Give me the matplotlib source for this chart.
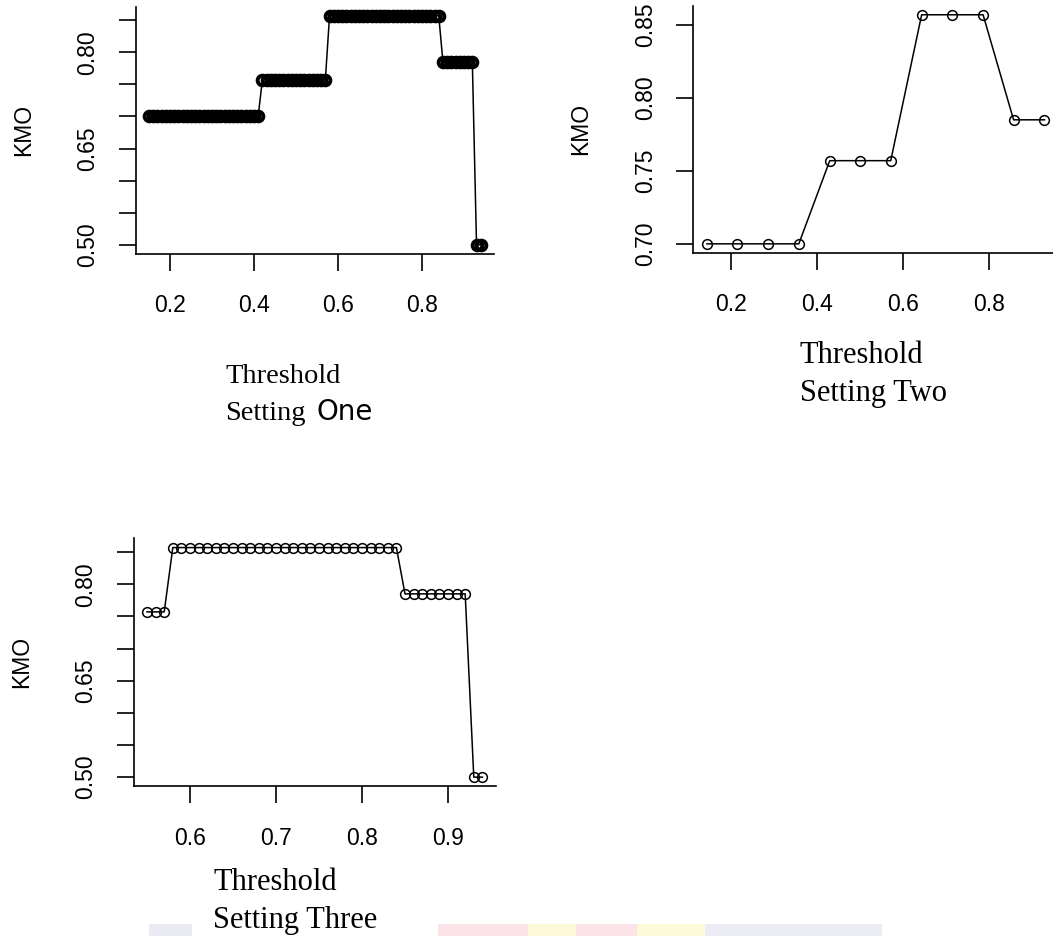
import matplotlib
matplotlib.use("Agg")
import matplotlib.pyplot as plt
from matplotlib.patches import Rectangle

# ---------------- data ----------------
# Setting One: thresholds 0.15 .. 0.94 (step 0.01)
one_thresholds = [0.15, 0.16, 0.17, 0.18, 0.19, 0.20, 0.21, 0.22, 0.23, 0.24,
                  0.25, 0.26, 0.27, 0.28, 0.29, 0.30, 0.31, 0.32, 0.33, 0.34,
                  0.35, 0.36, 0.37, 0.38, 0.39, 0.40, 0.41, 0.42, 0.43, 0.44,
                  0.45, 0.46, 0.47, 0.48, 0.49, 0.50, 0.51, 0.52, 0.53, 0.54,
                  0.55, 0.56, 0.57, 0.58, 0.59, 0.60, 0.61, 0.62, 0.63, 0.64,
                  0.65, 0.66, 0.67, 0.68, 0.69, 0.70, 0.71, 0.72, 0.73, 0.74,
                  0.75, 0.76, 0.77, 0.78, 0.79, 0.80, 0.81, 0.82, 0.83, 0.84,
                  0.85, 0.86, 0.87, 0.88, 0.89, 0.90, 0.91, 0.92, 0.93, 0.94]
one_kmo = [0.700] * 27 + [0.757] * 16 + [0.857] * 27 + [0.785] * 8 + [0.500] * 2

# Setting Two
two_thresholds = [0.143, 0.214, 0.286, 0.357, 0.429, 0.500,
                  0.571, 0.643, 0.714, 0.786, 0.857, 0.929]
two_kmo = [0.700, 0.700, 0.700, 0.700, 0.757, 0.757,
           0.757, 0.857, 0.857, 0.857, 0.785, 0.785]

# Setting Three: thresholds 0.55 .. 0.94
three_thresholds = [0.55, 0.56, 0.57, 0.58, 0.59, 0.60, 0.61, 0.62, 0.63, 0.64,
                    0.65, 0.66, 0.67, 0.68, 0.69, 0.70, 0.71, 0.72, 0.73, 0.74,
                    0.75, 0.76, 0.77, 0.78, 0.79, 0.80, 0.81, 0.82, 0.83, 0.84,
                    0.85, 0.86, 0.87, 0.88, 0.89, 0.90, 0.91, 0.92, 0.93, 0.94]
three_kmo = [0.757] * 3 + [0.857] * 27 + [0.785] * 8 + [0.500] * 2

y_ticks_wide = [0.50, 0.55, 0.60, 0.65, 0.70, 0.75, 0.80, 0.85]
y_labels_wide = ["0.50", "", "", "0.65", "", "", "0.80", ""]
y_ticks_two = [0.70, 0.75, 0.80, 0.85]
y_labels_two = ["0.70", "0.75", "0.80", "0.85"]
x_ticks_a = [0.2, 0.4, 0.6, 0.8]
x_labels_a = ["0.2", "0.4", "0.6", "0.8"]
x_ticks_c = [0.6, 0.7, 0.8, 0.9]
x_labels_c = ["0.6", "0.7", "0.8", "0.9"]

# ---------------- figure ----------------
W, H = 1053, 936
fig = plt.figure(figsize=(W / 100, H / 100), dpi=100)
fig.patch.set_facecolor("white")

SANS = "Liberation Sans"
SERIF = "Liberation Serif"


def px_axes(left, top, right, bottom):
    return fig.add_axes([left / W, 1 - bottom / H, (right - left) / W, (bottom - top) / H])


def style(ax, xt, xl, yt, yl):
    ax.margins(x=0.04, y=0.04)
    for s in ("top", "right"):
        ax.spines[s].set_visible(False)
    for s in ("left", "bottom"):
        ax.spines[s].set_linewidth(1.2)
    ax.set_xticks(xt)
    ax.set_xticklabels(xl, fontfamily=SANS, fontsize=16.5)
    ax.set_yticks(yt)
    ax.set_yticklabels(yl, fontfamily=SANS, fontsize=16.5, rotation=90, va="center")
    ax.tick_params(axis="both", direction="out", length=12, width=1.2, color="black")
    ax.tick_params(axis="x", pad=17)
    ax.tick_params(axis="y", pad=14)
    ax.set_ylabel("KMO", fontfamily=SANS, fontsize=16.5, labelpad=30)
    ax.set_facecolor("none")


line_kw = dict(color="black", linewidth=1.1, marker="o", markersize=7,
               markerfacecolor="none", markeredgecolor="black")

ax1 = px_axes(135.7, 6.5, 494.0, 254.0)
ax1.plot(one_thresholds, one_kmo, markeredgewidth=2.8, **line_kw)
style(ax1, x_ticks_a, x_labels_a, y_ticks_wide, y_labels_wide)

ax2 = px_axes(693.4, 5.6, 1058.0, 253.0)
ax2.plot(two_thresholds, two_kmo, markeredgewidth=1.1, **line_kw)
style(ax2, x_ticks_a, x_labels_a, y_ticks_two, y_labels_two)

ax3 = px_axes(133.6, 538.4, 495.8, 786.3)
ax3.plot(three_thresholds, three_kmo, markeredgewidth=1.1, **line_kw)
style(ax3, x_ticks_c, x_labels_c, y_ticks_wide, y_labels_wide)


def ftext(x, y, s, size, family):
    fig.text(x / W, 1 - y / H, s, fontsize=size, fontfamily=family,
             ha="left", va="baseline", color="black")


ftext(225, 383, "Threshold", 20.5, SERIF)
ftext(225, 420, "Setting", 20.5, SERIF)
ftext(316.7, 420, "One", 20, "DejaVu Sans")

ftext(800, 363, "Threshold", 22, SERIF)
ftext(800, 401, "Setting Two", 22, SERIF)

ftext(213, 890, "Threshold", 22, SERIF)
ftext(213, 928, "Setting Three", 22, SERIF)

# faint watermark strip at the bottom edge
strip = [(149, 192, "#ebebf4"), (438, 528, "#fce3e7"), (528, 576, "#fdf9d8"),
         (576, 637, "#fce3e7"), (637, 705, "#fdfad8"), (705, 882, "#ececf5")]
for x0, x1, c in strip:
    fig.patches.append(Rectangle((x0 / W, 0), (x1 - x0) / W, 12.5 / H,
                                 transform=fig.transFigure, facecolor=c,
                                 edgecolor="none", zorder=-1))

fig.savefig("out.png", dpi=100, facecolor="white")
